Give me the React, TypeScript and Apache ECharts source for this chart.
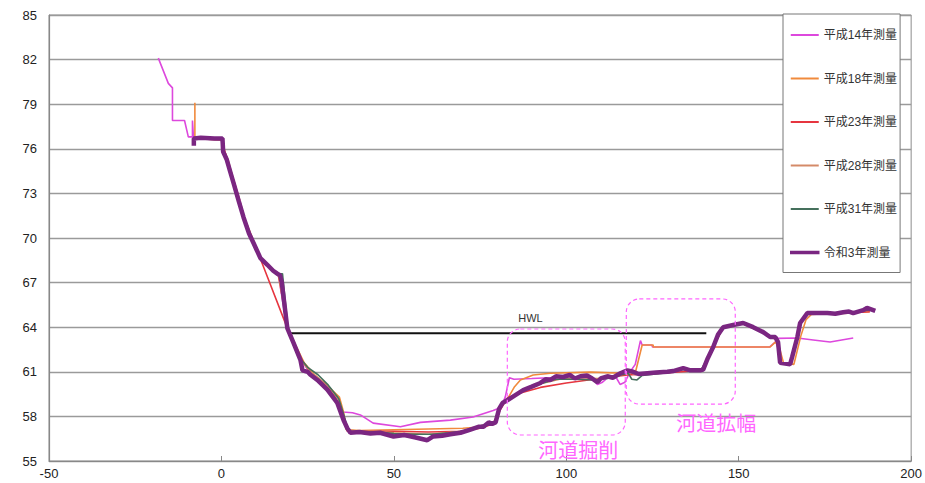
import React, { useEffect, useRef } from "react";
import * as echarts from "echarts";

const legendNames = ["平成14年測量", "平成18年測量", "平成23年測量", "平成28年測量", "平成31年測量", "令和3年測量"];
const colors = ["#dd48dd", "#f08a3c", "#e6353f", "#d48a68", "#45705c", "#7a2681"];

const h14: number[][] = [
  [-18.3, 82.1], [-15.4, 80.4], [-14.2, 80.1], [-14.2, 77.9], [-10.7, 77.9], [-9.6, 76.8], [-8.4, 76.8], [-8.4, 77.9], [-8.1, 76.7],
  [0, 76.7], [0.5, 75.8], [3.5, 73.7], [6.4, 71.4], [9.3, 69.6], [11.3, 68.6], [13.3, 68.2], [16.5, 67.5], [19, 64.0],
  [21, 62.9], [23, 61.8], [25.8, 60.9], [30.7, 59.9], [33.6, 59.0], [35.2, 58.3], [38, 58.25], [40.3, 58.1], [44, 57.55],
  [51.9, 57.3], [57.7, 57.6], [66.4, 57.75], [73, 57.96], [78.8, 58.4], [81, 58.6], [82.3, 59.3], [83.5, 60.6], [84.8, 60.5],
  [90, 60.55], [95, 60.6], [100, 60.65], [105, 60.6], [108, 60.5], [109, 60.15], [110.5, 60.3], [112, 60.6], [114.5, 60.6],
  [115.6, 60.15], [117, 60.3], [118.5, 61.0], [120, 61.5], [121.5, 63.1], [122, 62.8], [124.8, 62.8], [125, 62.67],
  [159, 62.67], [160.6, 63.0], [161.2, 63.25], [167, 63.27], [171.6, 63.14], [176.5, 63.0], [183.2, 63.27]
];

const h18: number[][] = [
  [-7.7, 79.1], [-7.7, 76.7], [0, 76.7], [0.8, 75.9], [2, 75.2], [3.7, 73.7], [6.6, 71.4], [9.5, 69.7], [11.5, 68.5],
  [13.5, 68.1], [16.5, 67.5], [19.2, 64.0], [21.5, 62.8], [24, 61.6], [27, 60.8], [31, 60.0], [34.2, 59.3], [35.4, 58.3],
  [36.3, 57.1], [40, 57.05], [50, 57.1], [60, 57.15], [70, 57.2], [76, 57.3], [79, 57.6], [81, 58.7], [83, 59.2],
  [85, 60.0], [86.7, 60.45], [90.4, 60.78], [95.4, 60.9], [107, 60.98], [116.5, 60.9], [119.5, 60.95], [120.2, 61.1],
  [122, 62.8], [125.2, 62.8], [125.2, 62.67], [159.1, 62.67], [160.6, 63.0], [161.8, 62.6], [163, 61.6], [166, 61.5],
  [168, 63.4], [169.5, 64.5], [171, 64.85], [176, 64.9], [182, 64.95], [188, 65.05]
];

const h23: number[][] = [
  [-7.8, 76.7], [0, 76.6], [1, 75.8], [3, 74.3], [5, 72.8], [6.6, 71.4], [9.3, 69.7], [11.8, 68.3], [19.1, 63.94],
  [21, 62.9], [23, 61.9], [26, 60.9], [30, 60.2], [33, 59.3], [35.5, 58.0], [36.5, 57.0], [40, 57.0], [50, 57.0],
  [60, 56.95], [70, 57.0], [75, 57.2], [79, 57.5], [81, 58.5], [82.9, 59.24], [86.7, 59.57], [92.5, 59.95], [100, 60.25],
  [108, 60.5], [117.7, 60.78], [127.2, 60.9], [139.7, 61.1], [141, 61.9], [145.5, 64.0], [151, 64.25], [157, 63.65],
  [161, 63.2], [162, 61.6], [165, 61.5], [167, 63.2], [168, 64.3], [170, 64.95], [178, 64.95], [188, 65.05]
];

const h28: number[][] = [
  [-7.8, 76.7], [0, 76.6], [0.6, 75.7], [2, 75.0], [3.6, 73.6], [6.4, 71.4], [9.3, 69.7], [11.3, 68.7], [13.3, 68.2],
  [16.2, 67.6], [17.3, 67.4], [19.1, 63.9], [21, 62.9], [23, 61.8], [25.8, 61.0], [28.5, 60.5], [31.5, 59.9], [34, 59.1],
  [35.3, 58.0], [36.2, 57.1], [40, 57.0], [45, 57.0], [50, 56.9], [55, 56.85], [60, 56.8], [65, 56.9], [70, 57.0],
  [74, 57.3], [77.5, 57.5], [79.5, 57.7], [80.7, 58.5], [82, 59.0], [84, 59.3], [87.5, 59.8], [92.5, 60.2], [99, 60.55],
  [104, 60.6], [109, 60.55], [112, 60.6], [116, 60.8], [118, 61.0], [120, 60.8], [124, 60.85], [130, 60.95], [134, 61.2],
  [139, 61.1], [141, 61.9], [142.7, 62.7], [145.5, 64.0], [148, 64.15], [151, 64.25], [154, 64.0], [157, 63.65],
  [159.5, 63.3], [160.5, 63.2], [161, 63.0], [162.2, 61.6], [165, 61.5], [165.6, 62.0], [167.2, 63.3], [168, 64.3],
  [170, 64.9], [176, 64.9], [180, 65.0], [183, 65.0], [186, 65.1], [188.5, 65.15]
];

const h31: number[][] = [
  [-7.8, 76.7], [0, 76.65], [0.5, 75.8], [1.8, 75.2], [3.5, 73.7], [6.4, 71.4], [9.3, 69.7], [11.3, 68.7], [13.3, 68.2],
  [16.2, 67.6], [17.7, 67.6], [19.3, 63.9], [21, 62.9], [22.5, 62.0], [25, 61.3], [28, 60.8], [31, 60.1], [34, 59.2],
  [35.5, 58.1], [36.8, 57.0], [40, 56.95], [45, 56.95], [50, 56.85], [56, 56.8], [61, 56.8], [66, 56.9], [70, 57.0],
  [74, 57.3], [77.5, 57.5], [79.5, 57.6], [80.5, 58.4], [81.8, 58.9], [83.5, 59.2], [87.5, 59.75], [92.5, 60.2],
  [97, 60.5], [103, 60.5], [108, 60.45], [112, 60.55], [116, 60.8], [118, 60.9], [119, 60.5], [120.5, 60.45], [122, 60.75],
  [126, 60.85], [130, 60.95], [134, 61.15], [139, 61.1], [141, 61.9], [142.6, 62.7], [145.5, 64.0], [148.4, 64.15],
  [151.3, 64.25], [154.2, 64.0], [157, 63.65], [159.5, 63.35], [161, 63.3], [161.5, 62.9], [162, 61.6], [165, 61.5],
  [165.5, 62.0], [167, 63.3], [168, 64.3], [170, 64.9], [176, 64.95], [180.3, 65.0], [183, 65.0], [186, 65.1], [188.5, 65.2]
];

const r3: number[][] = [
  [-8, 76.2], [-8, 76.7], [-6, 76.75], [-2, 76.7], [0.3, 76.7], [0.5, 75.8], [1.5, 75.3], [2.5, 74.5], [3.5, 73.7],
  [5, 72.5], [6.4, 71.4], [8, 70.3], [9.3, 69.66], [11.3, 68.65], [13.3, 68.2], [15, 67.8], [16.2, 67.6], [17, 67.5],
  [17.5, 67.0], [19.1, 63.94], [20.9, 62.94], [22.9, 61.8], [23.5, 61.1], [25, 61.0], [25.8, 60.8], [27.8, 60.45],
  [30.7, 59.8], [33.6, 58.9], [35.4, 57.76], [36.5, 57.2], [37.4, 56.9], [40, 56.95], [43.2, 56.85], [46, 56.9],
  [49.9, 56.65], [53, 56.75], [56, 56.6], [59.7, 56.4], [61.4, 56.65], [64, 56.7], [66.4, 56.8], [69.3, 56.9],
  [72, 57.1], [74.5, 57.3], [76, 57.3], [77.5, 57.6], [78.5, 57.5], [79.5, 57.6], [80.5, 58.5], [81.5, 58.9], [83, 59.1],
  [85, 59.4], [87.5, 59.77], [90, 60.0], [92.5, 60.25], [94, 60.5], [95.4, 60.45], [97, 60.7], [99.1, 60.65], [101, 60.8],
  [102.5, 60.55], [104.1, 60.7], [106, 60.75], [107.5, 60.55], [109, 60.3], [110, 60.55], [111.9, 60.7], [113.5, 60.6],
  [115.7, 60.9], [117.7, 61.1], [119.4, 61.0], [121, 60.85], [123.5, 60.9], [126, 60.95], [129.3, 61.0], [131, 61.05],
  [133.9, 61.25], [136, 61.1], [138.8, 61.1], [139.7, 61.15], [141, 61.9], [142.6, 62.67], [144, 63.5], [145.5, 64.0],
  [148.4, 64.15], [151.3, 64.28], [154.2, 64.0], [157.1, 63.67], [159.1, 63.34], [160.6, 63.34], [161.4, 63.0], [162, 61.6],
  [164.9, 61.5], [165.5, 62.0], [167, 63.34], [167.8, 64.28], [169.9, 64.95], [172, 64.95], [175.7, 64.95], [178, 64.9],
  [180.3, 65.0], [182, 65.05], [183.2, 64.95], [186.1, 65.15], [187.2, 65.3], [189.6, 65.1]
];

const hwlLevel = 63.6;
const hwlStart = 20;
const hwlEnd = 140.6;
const hwlLabel = { text: "HWL", x: 89.6, y: 64.6 };

const annoBoxes = [
  { x0: 82.9, x1: 117.1, y0: 63.88, y1: 56.75 },
  { x0: 117.4, x1: 149.0, y0: 65.9, y1: 58.83 }
];
const annoTexts = [
  { text: "河道掘削", x: 103.5, y: 55.74 },
  { text: "河道拡幅", x: 143.5, y: 57.62 }
];

const FONT = "'Liberation Sans', 'Noto Sans CJK JP', sans-serif";

export default function App() {
  const ref = useRef<HTMLDivElement>(null);
  useEffect(() => {
    const chart = echarts.init(ref.current!, null, { renderer: "svg" });
    const allData = [h14, h18, h23, h28, h31, r3];
    const series: any[] = allData.map((d, i) => ({
      name: legendNames[i],
      type: "line",
      data: d,
      symbol: "none",
      lineStyle: { color: colors[i], width: i === 5 ? 4.5 : 1.6 },
      itemStyle: { color: colors[i] },
      z: 2 + i
    }));
    series.push({
      name: "HWL",
      type: "line",
      symbol: "none",
      data: [[hwlStart, hwlLevel], [hwlEnd, hwlLevel]],
      lineStyle: { color: "#111", width: 2 },
      z: 1
    });

    chart.setOption({
      animation: false,
      textStyle: { fontFamily: FONT },
      grid: { left: 49, right: 13, top: 15, bottom: 22, show: true, borderColor: "#8c8c8c", borderWidth: 1, backgroundColor: "transparent" },
      xAxis: {
        type: "value", min: -50, max: 200, interval: 50,
        axisLine: { show: true, onZero: false, lineStyle: { color: "#888", width: 1.2 } },
        axisTick: { show: true, inside: true, length: 5, lineStyle: { color: "#888" } },
        splitLine: { show: false },
        axisLabel: { color: "#222", fontSize: 13, margin: 6, fontFamily: FONT }
      },
      yAxis: {
        type: "value", min: 55, max: 85, interval: 3,
        axisLine: { show: true, onZero: false, lineStyle: { color: "#888", width: 1.2 } },
        axisTick: { show: false },
        splitLine: { show: true, lineStyle: { color: "#9a9a9a", width: 1.3 } },
        axisLabel: { color: "#222", fontSize: 13, margin: 12, fontFamily: FONT }
      },
      legend: {
        orient: "vertical", left: 783, top: 14,
        padding: [15, 3, 14, 7],
        itemGap: 31.5, itemWidth: 28, itemHeight: 2, icon: "rect", itemTextGap: 2,
        backgroundColor: "#fff", borderColor: "#777", borderWidth: 1,
        textStyle: { fontSize: 12, color: "#333", fontFamily: FONT },
        data: legendNames.map((n, i) => i === 5
          ? { name: n, itemStyle: { borderColor: colors[i], borderWidth: 1.5 } }
          : { name: n })
      },
      series
    });

    const graphics: any[] = [];
    annoBoxes.forEach((b) => {
      const p0 = chart.convertToPixel({ gridIndex: 0 }, [b.x0, b.y0]) as number[];
      const p1 = chart.convertToPixel({ gridIndex: 0 }, [b.x1, b.y1]) as number[];
      graphics.push({
        type: "rect",
        shape: { x: p0[0], y: p0[1], width: p1[0] - p0[0], height: p1[1] - p0[1], r: 13 },
        style: { fill: "none", stroke: "#ff66ff", lineWidth: 1.2, lineDash: [4, 3] },
        z: 100
      });
    });
    annoTexts.forEach((t) => {
      const p = chart.convertToPixel({ gridIndex: 0 }, [t.x, t.y]) as number[];
      graphics.push({
        type: "text",
        x: p[0], y: p[1],
        style: { text: t.text, fill: "#ff66ff", fontSize: 20, fontFamily: "'Noto Sans CJK JP', sans-serif", align: "center", verticalAlign: "middle" },
        z: 100
      });
    });
    const hp = chart.convertToPixel({ gridIndex: 0 }, [hwlLabel.x, hwlLabel.y]) as number[];
    graphics.push({
      type: "text",
      x: hp[0], y: hp[1],
      style: { text: hwlLabel.text, fill: "#333", fontSize: 11, fontFamily: FONT, align: "center", verticalAlign: "middle" },
      z: 100
    });
    chart.setOption({ graphic: graphics });

    return () => chart.dispose();
  }, []);
  return <div ref={ref} style={{ position: "absolute", left: 0, top: 0, width: 925, height: 483 }} />;
}
